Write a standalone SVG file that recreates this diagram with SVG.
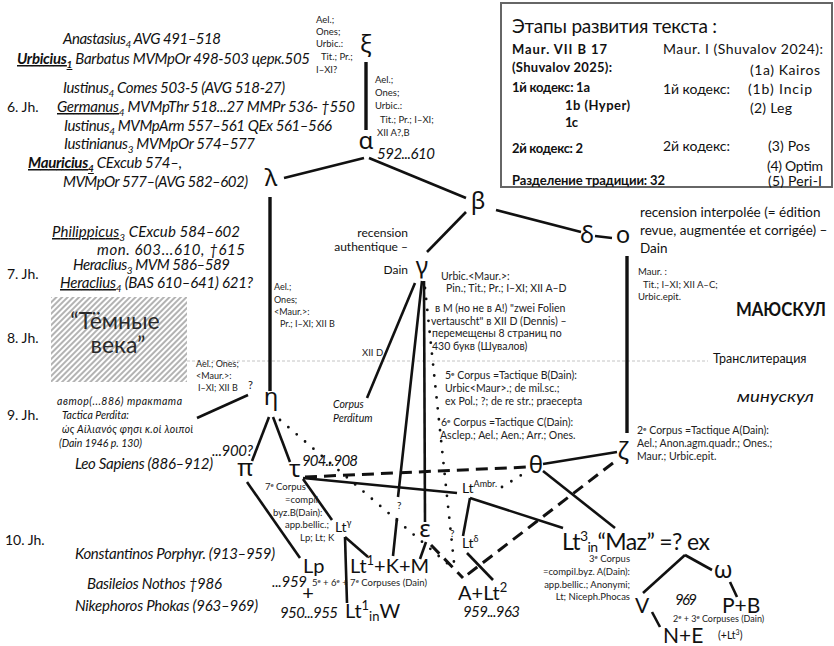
<svg xmlns="http://www.w3.org/2000/svg" width="834" height="646" viewBox="0 0 834 646">
<defs>
<pattern id="hatch" patternUnits="userSpaceOnUse" width="4" height="4" patternTransform="rotate(45)"><line x1="2" y1="0" x2="2" y2="4" stroke="#8a8a8a" stroke-width="1.3"/></pattern>
</defs>
<style>
text{font-family:Lato,"Noto Sans",sans-serif;fill:#111}
.it{font-style:italic;font-size:15px}
.it2{font-style:italic;font-size:10.5px}
.jh{font-size:14px}
.sm{font-size:9.5px;fill:#222}
.sm9{font-size:9px;fill:#222}
.md{font-size:10.5px;fill:#222}
.gr{font-family:"Noto Sans","DejaVu Sans",sans-serif;font-size:24px;text-anchor:middle}
.big{font-size:20px}
.ln{stroke:#111;stroke-width:2.6;fill:none}
.thk{stroke:#111;stroke-width:3.4;fill:none}
.ds{stroke:#111;stroke-width:3;fill:none;stroke-dasharray:12 7}
.dt{stroke:#111;stroke-width:2.8;fill:none;stroke-dasharray:0 11;stroke-linecap:round}
.b{font-weight:bold}
.u{text-decoration:underline}
.bx{font-size:14px}
.bb{font-size:13px;font-weight:bold}
.ra{text-anchor:end}
</style>
<rect width="834" height="646" fill="#fff"/>

<!-- legend box -->
<g id="legend">
<rect x="501" y="3" width="331" height="184" fill="#fff" stroke="#666" stroke-width="2"/>
<text x="512" y="33" font-size="19" textLength="205">Этапы развития текста :</text>
<text x="512" y="54" class="bb" textLength="95">Maur. VII B 17</text>
<text x="512" y="72" class="bb" textLength="100">(Shuvalov 2025):</text>
<text x="512" y="92" class="bb" textLength="78">1й кодекс: 1a</text>
<text x="565" y="110" class="bb" textLength="65">1b (Hyper)</text>
<text x="565" y="127" class="bb" textLength="13">1c</text>
<text x="512" y="153" class="bb" textLength="71">2й кодекс: 2</text>
<text x="512" y="185" class="bb" textLength="153">Разделение традиции: 32</text>
<text x="663" y="54" class="bx" textLength="160">Maur. I (Shuvalov 2024):</text>
<text x="750" y="75" class="bx" textLength="70">(1a) Kairos</text>
<text x="663" y="94" class="bx" textLength="67">1й кодекс:</text>
<text x="748" y="94" class="bx" textLength="64">(1b) Incip</text>
<text x="750" y="113" class="bx" textLength="42">(2) Leg</text>
<text x="663" y="151" class="bx" textLength="67">2й кодекс:</text>
<text x="768" y="151" class="bx" textLength="42">(3) Pos</text>
<text x="767" y="171" class="bx" textLength="56">(4) Optim</text>
<text x="768" y="186" class="bx" textLength="54">(5) Peri-I</text>
</g>

<!-- timeline / left column -->
<g id="timeline">
<text x="63" y="44" class="it" textLength="158">Anastasius<tspan font-size="10" dy="4">4</tspan><tspan dy="-4"> AVG 491–518</tspan></text>
<text x="17" y="64" class="it" textLength="293"><tspan class="b u">Urbicius<tspan font-size="10" dy="4">1</tspan></tspan><tspan dy="-4"> Barbatus MVMpOr 498-503 церк.505</tspan></text>
<text x="63" y="93" class="it" textLength="222">Iustinus<tspan font-size="10" dy="4">4</tspan><tspan dy="-4"> Comes 503-5 (AVG 518-27)</tspan></text>
<text x="7" y="112" class="jh">6. Jh.</text>
<text x="57" y="112" class="it" textLength="298"><tspan class="u">Germanus</tspan><tspan font-size="10" dy="4">4</tspan><tspan dy="-4"> MVMpThr 518...27 MMPr 536- †550</tspan></text>
<text x="64" y="131" class="it" textLength="268">Iustinus<tspan font-size="10" dy="4">4</tspan><tspan dy="-4"> MVMpArm 557–561 QEx 561–566</tspan></text>
<text x="64" y="149" class="it" textLength="191">Iustinianus<tspan font-size="10" dy="4">3</tspan><tspan dy="-4"> MVMpOr 574–577</tspan></text>
<text x="28" y="168" class="it" textLength="154"><tspan class="b u">Mauricius<tspan font-size="10" dy="4">4</tspan></tspan><tspan dy="-4"> CExcub 574–,</tspan></text>
<text x="63" y="187" class="it" textLength="185">MVMpOr 577–(AVG 582–602)</text>

<text x="52" y="237" class="it" textLength="188"><tspan class="u">Philippicus</tspan><tspan font-size="10" dy="4">3</tspan><tspan dy="-4">  CExcub 584–602</tspan></text>
<text x="97" y="255" class="it" textLength="148">mon. 603...610, †615</text>
<text x="73" y="270" class="it" textLength="157">Heraclius<tspan font-size="10" dy="4">3</tspan><tspan dy="-4"> MVM 586–589</tspan></text>
<text x="7" y="279" class="jh">7. Jh.</text>
<text x="60" y="288" class="it" textLength="193"><tspan class="u">Heraclius</tspan><tspan font-size="10" dy="4">4</tspan><tspan dy="-4"> (BAS 610–641) 621?</tspan></text>

<rect x="51" y="297" width="136" height="85" fill="url(#hatch)"/>
<text x="115" y="329" font-size="23" text-anchor="middle" style="fill:#2a2a2a">“Тёмные</text>
<text x="118" y="353" font-size="23" text-anchor="middle" style="fill:#2a2a2a">века”</text>
<text x="7" y="343" class="jh">8. Jh.</text>

<line x1="187" y1="361" x2="708" y2="361" stroke="#c4c4c4" stroke-width="1" stroke-dasharray="3 2"/>
<text x="713" y="363" font-size="12.5">Транслитерация</text>
<text x="736" y="316" font-family="'DejaVu Sans',sans-serif" font-weight="bold" font-size="18" textLength="90" lengthAdjust="spacingAndGlyphs">МАЮСКУЛ</text>
<text x="737" y="402" font-family="'DejaVu Serif',serif" font-style="italic" font-size="15" textLength="77" lengthAdjust="spacingAndGlyphs">минускул</text>

<text x="7" y="420" class="jh">9. Jh.</text>
<text x="57" y="405" class="it2" textLength="125">автор(...886) трактата</text>
<text x="62" y="419" class="it2">Tactica Perdita:</text>
<text x="62" y="433" class="it2" textLength="131">ώς Αἰλιανός φησι κ.οἱ λοιποὶ</text>
<text x="59" y="447" class="it2" textLength="83">(Dain 1946 p. 130)</text>
<text x="75" y="469" class="it" textLength="138">Leo Sapiens (886–912)</text>
<text x="212" y="456" class="it" textLength="41">...900?</text>

<text x="5" y="545" class="jh">10. Jh.</text>
<text x="75" y="559" class="it" textLength="200">Konstantinos Porphyr. (913–959)</text>
<text x="87" y="589" class="it" textLength="135">Basileios Nothos †986</text>
<text x="75" y="611" class="it" textLength="183">Nikephoros Phokas (963–969)</text>
</g>

<!-- connectors -->
<g id="connectors">
<path class="thk" d="M366,62 L366,130"/>
<path class="ln" d="M364,158 L284,178"/>
<path class="ln" d="M369,158 L466,198"/>
<path class="ln" d="M466,212 L427,252"/>
<path class="ln" d="M496,210 L581,232"/>
<path class="ln" d="M595,236 L612,238"/>
<path class="thk" d="M627,256 L627,433"/>
<path class="thk" d="M270,197 L270,391"/>
<path class="ln" d="M197,418 L248,395"/>
<path class="ln" d="M415,283 L367,398"/>
<path class="ln" d="M422,281 L398,497 M397,518 L393,556"/>
<path class="ln" d="M424,281 L425,522"/>
<path class="ln" d="M269,417 L252,461"/>
<path class="ln" d="M273,417 L290,462"/>
<path class="ln" d="M247,482 L300,558"/>
<path class="ln" d="M303,479 L332,520"/>
<path class="ln" d="M303,478 L457,493"/>
<path class="ln" d="M345,537 L347,603"/>
<path class="ln" d="M345,537 L368,557"/>
<path class="ln" d="M426,542 L420,559"/>
<path class="ln" d="M470,498 L463,536"/>
<path class="ln" d="M470,498 L563,528"/>
<path class="ln" d="M467,553 L493,580"/>
<path class="ln" d="M543,464 L617,452"/>
<path class="ln" d="M543,471 L615,528"/>
<path class="ln" d="M685,555 L643,593"/>
<path class="ln" d="M685,555 L712,570"/>
<path class="ln" d="M652,612 L660,627"/>
<path class="ln" d="M730,582 L737,597"/>
<path class="ds" d="M305,477 L528,467"/>
<path class="ds" d="M613,463 L463,578"/>
<path class="ds" d="M431,545 L463,578"/>
<path class="dt" d="M280,420 L455,570"/>
<path class="dt" d="M425,288 L455,572"/>
<path class="dt" d="M502,487 L528,471"/>
</g>

<!-- nodes -->
<g id="n-xi">
<text x="366" y="52" class="gr">ξ</text>
<text class="sm" x="316" y="23">Ael.;</text>
<text class="sm" x="316" y="35">Ones;</text>
<text class="sm" x="316" y="47">Urbic.:</text>
<text class="sm" x="321" y="60">Tit.;  Pr.;</text>
<text class="sm" x="316" y="73">I–XI?</text>
</g>
<g id="n-alpha">
<text x="366" y="149" class="gr">α</text>
<text class="sm" x="375" y="83">Ael.;</text>
<text class="sm" x="375" y="96">Ones;</text>
<text class="sm" x="375" y="109">Urbic.:</text>
<text class="sm" x="380" y="123">Tit.; Pr.; I–XI;</text>
<text class="sm" x="377" y="136">XII A?,B</text>
<text x="377" y="159" class="it" textLength="58">592...610</text>
</g>
<g id="n-lambda"><text x="271" y="186" class="gr">λ</text></g>
<g id="n-beta"><text x="478" y="209" class="gr">β</text></g>
<g id="n-gamma">
<text x="422" y="274" class="gr" font-size="22">γ</text>
<text x="408" y="237" font-size="12" text-anchor="end">recension</text>
<text x="408" y="251" font-size="12" text-anchor="end">authentique –</text>
<text x="408" y="274" font-size="12" text-anchor="end">Dain</text>
<text class="md" x="441" y="280">Urbic.&lt;Maur.&gt;:</text>
<text class="md" x="446" y="292">Pin.; Tit.; Pr.; I–XI; XII A–D</text>
<text class="md" x="435" y="312">в М (но не в А!) "zwei Folien</text>
<text class="md" x="431" y="325">vertauscht" в XII D (Dennis) –</text>
<text class="md" x="432" y="337">перемещены 8 страниц по</text>
<text class="md" x="432" y="350">430 букв (Шувалов)</text>
<text class="md" x="445" y="379">5<tspan font-size="6.5" dy="-3">e</tspan><tspan dy="3"> Corpus =Tactique B(Dain):</tspan></text>
<text class="md" x="445" y="392">Urbic&lt;Maur&gt;.; de mil.sc.;</text>
<text class="md" x="445" y="405">ex Pol.; ?; de re str.; praecepta</text>
<text class="md" x="441" y="426">6<tspan font-size="6.5" dy="-3">e</tspan><tspan dy="3"> Corpus =Tactique C(Dain):</tspan></text>
<text class="md" x="440" y="439">Asclep.; Ael.; Aen.; Arr.; Ones.</text>
</g>
<g id="n-corpus-perditum">
<text class="sm" x="362" y="356">XII D</text>
<text class="it2" x="333" y="408">Corpus</text>
<text class="it2" x="333" y="422">Perditum</text>
</g>
<g id="n-delta"><text x="587" y="243" class="gr">δ</text></g>
<g id="n-o">
<text x="623" y="243" class="gr">o</text>
<text x="640" y="217" font-size="13.5">recension interpolée (= édition</text>
<text x="640" y="235" font-size="13.5">revue, augmentée et corrigée) –</text>
<text x="640" y="253" font-size="13.5">Dain</text>
<text class="sm" x="638" y="275">Maur. :</text>
<text class="sm" x="643" y="288">Tit.; I–XI; XII A–C;</text>
<text class="sm" x="638" y="300">Urbic.epit.</text>
</g>
<g id="n-eta">
<text x="271" y="405" class="gr">η</text>
<text class="sm9" x="274" y="290">Ael.;</text>
<text class="sm9" x="274" y="303">Ones;</text>
<text class="sm9" x="274" y="315">&lt;Maur.&gt;:</text>
<text class="sm9" x="280" y="327">Pr.; I–XI; XII B</text>
<text class="sm9" x="196" y="367">Ael.; Ones;</text>
<text class="sm9" x="196" y="379">&lt;Maur.&gt;:</text>
<text class="sm9" x="198" y="391">I–XI; XII B</text>
<text x="248" y="389" font-size="11">?</text>
</g>
<g id="n-pi"><text x="245" y="476" class="gr">π</text></g>
<g id="n-tau">
<text x="295" y="477" class="gr">τ</text>
<text x="302" y="466" class="it" textLength="56">904...908</text>
<text class="sm" x="265" y="490">7<tspan font-size="6" dy="-3">e</tspan><tspan dy="3"> Corpus</tspan></text>
<text class="sm" x="285" y="503">=compil.</text>
<text class="sm" x="273" y="516">byz.B(Dain):</text>
<text class="sm" x="285" y="528">app.bellic.;</text>
<text class="sm" x="300" y="541">Lp; Lt; K</text>
</g>
<g id="n-ltg"><text x="335" y="532" font-size="14">Lt<tspan font-size="9" dy="-6">γ</tspan></text></g>
<g id="n-lp">
<text x="303" y="573" class="big">Lp</text>
<text x="272" y="587" class="it" textLength="35">...959</text>
<text x="308" y="600" font-size="20" text-anchor="middle">+</text>
<text x="280" y="618" class="it" textLength="58">950...955</text>
<text class="sm" x="312" y="586">5<tspan font-size="6" dy="-3">e</tspan><tspan dy="3"> + 6</tspan><tspan font-size="6" dy="-3">e</tspan><tspan dy="3"> + 7</tspan><tspan font-size="6" dy="-3">e</tspan><tspan dy="3"> Corpuses (Dain)</tspan></text>
</g>
<g id="n-lt1w"><text x="345" y="618" class="big">Lt<tspan font-size="13" dy="-8">1</tspan><tspan font-size="13" dy="11">in</tspan><tspan dy="-3">W</tspan></text></g>
<g id="n-lt1km">
<text x="350" y="573" class="big">Lt<tspan font-size="13" dy="-8">1</tspan><tspan dy="8">+K+M</tspan></text>
<text x="397" y="509" font-size="10">?</text>
</g>
<g id="n-epsilon">
<text x="425" y="537" class="gr">ε</text>
<text x="450" y="537" font-size="10">?</text>
</g>
<g id="n-ltambr"><text x="462" y="493" font-size="14">Lt<tspan font-size="9" dy="-6">Ambr.</tspan></text></g>
<g id="n-ltdelta"><text x="462" y="548" font-size="14">Lt<tspan font-size="9" dy="-6">δ</tspan></text></g>
<g id="n-alt2">
<text x="458" y="600" class="big">A+Lt<tspan font-size="13" dy="-8">2</tspan></text>
<text x="463" y="617" class="it" textLength="57">959...963</text>
</g>
<g id="n-theta"><text x="536" y="473" class="gr">θ</text></g>
<g id="n-zeta">
<text x="623" y="459" class="gr">ζ</text>
<text class="md" x="637" y="434">2<tspan font-size="6.5" dy="-3">e</tspan><tspan dy="3"> Corpus =Tactique A(Dain):</tspan></text>
<text class="md" x="637" y="447">Ael.; Anon.agm.quadr.; Ones.;</text>
<text class="md" x="637" y="460">Maur.; Urbic.epit.</text>
</g>
<g id="n-lt3">
<text x="562" y="550" font-size="23" textLength="148">Lt<tspan font-size="14" dy="-9">3</tspan><tspan font-size="14" dy="11">in</tspan><tspan dy="-2">“Maz” =? ex</tspan></text>
<text class="sm ra" x="630" y="562">3<tspan font-size="6" dy="-3">e</tspan><tspan dy="3"> Corpus</tspan></text>
<text class="sm ra" x="630" y="575">=compil.byz. A(Dain):</text>
<text class="sm ra" x="630" y="588">app.bellic.; Anonymi;</text>
<text class="sm ra" x="630" y="600">Lt; Niceph.Phocas</text>
</g>
<g id="n-v"><text x="642" y="613" font-size="21" text-anchor="middle">V</text></g>
<g id="n-ne"><text x="663" y="643" font-size="21">N+E</text></g>
<g id="n-omega"><text x="723" y="578" class="gr">ω</text></g>
<g id="n-pb">
<text x="722" y="613" font-size="21">P+B</text>
<text x="675" y="605" class="it" textLength="22">969</text>
<text class="sm9" x="673" y="622">2<tspan font-size="6" dy="-3">e</tspan><tspan dy="3"> + 3</tspan><tspan font-size="6" dy="-3">e</tspan><tspan dy="3"> Corpuses (Dain)</tspan></text>
<text x="718" y="639" font-size="10.5">(+Lt<tspan font-size="7" dy="-4">3</tspan><tspan dy="4">)</tspan></text>
</g>
</svg>
